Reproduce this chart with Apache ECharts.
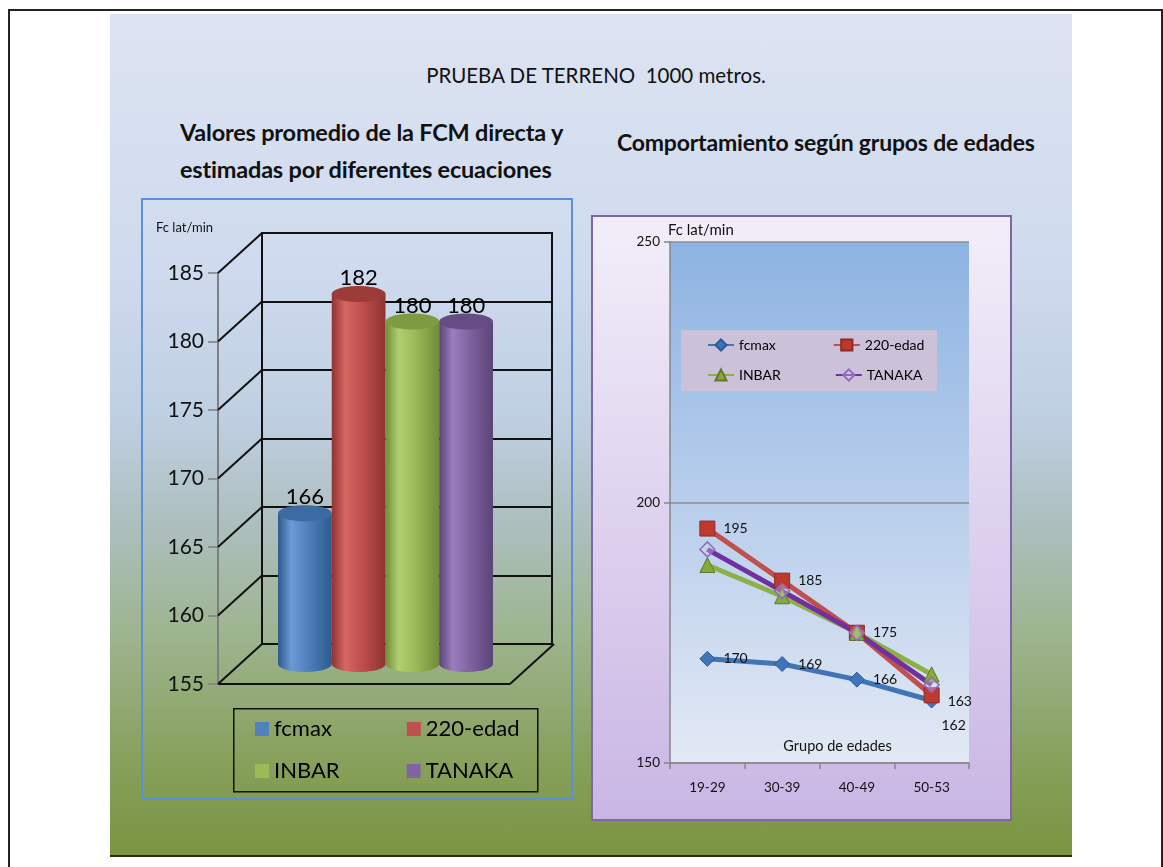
<!DOCTYPE html>
<html>
<head>
<meta charset="utf-8">
<script src="https://cdn.jsdelivr.net/npm/echarts@6/dist/echarts.min.js"></script>
<style>
	body{
		margin: 0;
		width: 1163px;
		height: 867px;
		overflow: hidden;
		background: #fff;
		position: relative;
		font-family: Lato, 'Open Sans', sans-serif;
	}
	.frame{
		position: absolute;
		left: 8px; top: 9px;
		width: 1151px; height: 900px;
		border: 2px solid #222;
	}
	.slide{
		position: absolute;
		left: 110px; top: 14px;
		width: 962px; height: 841px;
		border-bottom: 2px solid #223014;
		background: linear-gradient(to bottom, #dde4f2 0%, #cfdaee 30%, #bfcfe2 48%, #aebfc0 60%, #9db48e 74%, #88a15e 88%, #7a9440 100%);
	}
	.ttl{
		position: absolute;
		color: #111;
		white-space: pre;
		line-height: 37px;
	}
	#mainTitle{ left: 0; width: 1192px; top: 57px; text-align: center; font-size: 20.5px; }
	#leftTitle{ left: 180px; top: 114px; font-size: 23.5px; font-weight: bold; letter-spacing: -0.2px; }
	#rightTitle{ left: 617px; top: 124px; font-size: 23px; font-weight: bold; letter-spacing: -0.2px; }
	#barBox{
		position: absolute;
		left: 141px; top: 198px;
		width: 432px; height: 602px;
		border: 2px solid #5b8fd6;
		box-sizing: border-box;
	}
	#lineBox{
		position: absolute;
		left: 591px; top: 215px;
		width: 421px; height: 606px;
		border: 2px solid #7f67a6;
		box-sizing: border-box;
		background: linear-gradient(to bottom, #f2eef9, #c9b6e4);
	}
	#barChart, #lineChart{ width: 100%; height: 100%; }
</style>
</head>
<body>
	<div class="frame"></div>
	<div class="slide"></div>
	<div class="ttl" id="mainTitle">PRUEBA DE TERRENO  1000 metros.</div>
	<div class="ttl" id="leftTitle">Valores promedio de la FCM directa y
estimadas por diferentes ecuaciones</div>
	<div class="ttl" id="rightTitle">Comportamiento según grupos de edades</div>
	<div id="barBox"><div id="barChart"></div></div>
	<div id="lineBox"><div id="lineChart"></div></div>

<script>
	// ****** datos
	var seriesNames = ['fcmax', '220-edad', 'INBAR', 'TANAKA'];
	var barValues = [166, 182, 180, 180];
	var barTicks = [155, 160, 165, 170, 175, 180, 185];

	var ageGroups = ['19-29', '30-39', '40-49', '50-53'];
	var fcmax = [170, 169, 166, 162];
	var edad220 = [195, 185, 175, 163];
	var inbar = [188, 182, 175, 167];
	var tanaka = [191, 183, 175, 165];

	var FONT = 'Lato, "Open Sans", sans-serif';

	// colores: base, borde oscuro, claro, tapa
	var barColors = [
		['#4f81bd', '#2f5a8e', '#6a9ad6', '#3c6aa2'],
		['#c0504d', '#8f3330', '#d66662', '#9c3b38'],
		['#9bbb59', '#708c38', '#b0d06e', '#7e9b43'],
		['#8064a2', '#5a4478', '#9a7dbd', '#654c85']
	];

	function cylGrad(c){
		return new echarts.graphic.LinearGradient(0, 0, 1, 0, [
			{offset: 0, color: c[1]},
			{offset: 0.25, color: c[2]},
			{offset: 0.55, color: c[0]},
			{offset: 1, color: c[1]}
		]);
	}

	//  **************************** cilindros
	var barChart = echarts.init(document.getElementById('barChart'));

	var barSeries = [];
	for (var i = 0; i < seriesNames.length; i++) {
		barSeries.push({
			name: seriesNames[i],
			type: 'bar',
			xAxisIndex: 2, yAxisIndex: 2,
			barGap: '0%', barCategoryGap: '0%',
			z: 3,
			itemStyle: { color: cylGrad(barColors[i]) },
			label: {
				show: true, position: 'top', distance: 5,
				fontSize: 22, color: '#000', fontFamily: FONT
			},
			data: [barValues[i]]
		});
	}

	// tapa y base redondeadas de cada cilindro
	barSeries.push({
		type: 'custom',
		xAxisIndex: 2, yAxisIndex: 2,
		z: 4,
		silent: true,
		data: barValues.map(function (v, k) { return [0, k, v]; }),
		renderItem: function (params, api) {
			var k = api.value(1);
			var base = api.coord([0, 155]);
			var top = api.coord([0, api.value(2)]);
			var band = api.size([1, 0])[0];
			var w = band / seriesNames.length;
			var cx = base[0] - band / 2 + (k + 0.5) * w;
			return {
				type: 'group',
				children: [{
					type: 'ellipse',
					shape: { cx: cx, cy: base[1], rx: w / 2, ry: 8 },
					style: { fill: cylGrad(barColors[k]) }
				}, {
					type: 'ellipse',
					shape: { cx: cx, cy: top[1], rx: w / 2, ry: 8 },
					style: { fill: barColors[k][3] }
				}]
			};
		}
	});

	// lineas de perspectiva desde el eje frontal
	barSeries.push({
		type: 'custom',
		xAxisIndex: 0, yAxisIndex: 0,
		z: 1,
		silent: true,
		data: barTicks.map(function (v) { return [0, v]; }),
		renderItem: function (params, api) {
			var p = api.coord([0, api.value(1)]);
			var children = [{
				type: 'line',
				shape: { x1: p[0], y1: p[1], x2: p[0] + 44, y2: p[1] - 40 },
				style: { stroke: '#111', lineWidth: 2 }
			}];
			if (api.value(1) === barTicks[0]) {
				var q = api.coord([1, api.value(1)]);
				children.push({
					type: 'line',
					shape: { x1: p[0], y1: p[1], x2: q[0], y2: q[1] },
					style: { stroke: '#111', lineWidth: 2 }
				});
				children.push({
					type: 'line',
					shape: { x1: q[0], y1: q[1], x2: q[0] + 44, y2: q[1] - 40 },
					style: { stroke: '#111', lineWidth: 2 }
				});
			}
			return { type: 'group', children: children };
		}
	});

	var legendTop = [], legendBottom = [];
	for (var i = 0; i < seriesNames.length; i++) {
		var it = { name: seriesNames[i], icon: 'rect', itemStyle: { color: barColors[i][0] } };
		if (i < 2) legendTop.push(it); else legendBottom.push(it);
	}
	var barLegendBase = {
		left: 90,
		padding: [10, 12, 10, 22],
		itemWidth: 14, itemHeight: 14,
		selectedMode: false,
		textStyle: { fontSize: 22, color: '#000', fontFamily: FONT }
	};

	var option1 = {
		animation: false,
		textStyle: { fontFamily: FONT },
		title: {
			text: 'Fc lat/min',
			left: 8, top: 16,
			textStyle: { fontSize: 13, fontWeight: 'normal', color: '#111', fontFamily: FONT }
		},
		legend: [
			Object.assign({}, barLegendBase, { top: 508, itemGap: 75, data: legendTop }),
			Object.assign({}, barLegendBase, { top: 550, itemGap: 67, data: legendBottom })
		],
		grid: [
			// eje frontal
			{ left: 75, width: 292, top: 73, bottom: 114 },
			// pared del fondo
			{ left: 119, width: 290, top: 33, bottom: 154, show: true, borderColor: '#111', borderWidth: 2, backgroundColor: 'transparent' },
			// cilindros
			{ left: 135, width: 215, top: 53, bottom: 134 }
		],
		xAxis: [
			{ gridIndex: 0, type: 'value', min: 0, max: 1, show: false },
			{ gridIndex: 1, type: 'value', min: 0, max: 1, show: false },
			{ gridIndex: 2, type: 'category', data: [''], show: false }
		],
		yAxis: [
			{
				gridIndex: 0, type: 'value', min: 155, max: 185, interval: 5,
				axisLine: { show: true, lineStyle: { color: '#7f7f7f', width: 2 } },
				axisTick: { show: true, length: 10, lineStyle: { color: '#7f7f7f', width: 1.5 } },
				axisLabel: { fontSize: 21, color: '#111', margin: 14, fontFamily: FONT },
				splitLine: { show: false }
			},
			{
				gridIndex: 1, type: 'value', min: 155, max: 185, interval: 5,
				axisLine: { show: false }, axisTick: { show: false }, axisLabel: { show: false },
				splitLine: { show: true, lineStyle: { color: '#111', width: 2 } }
			},
			{ gridIndex: 2, type: 'value', min: 155, max: 185, show: false }
		],
		graphic: [{
			type: 'rect',
			left: 90, top: 508,
			shape: { width: 304, height: 83 },
			style: { fill: 'transparent', stroke: '#111', lineWidth: 1.5 },
			silent: true
		}],
		series: barSeries
	};
	option1 && barChart.setOption(option1);

	//  **************************** lineas por grupos de edades
	var lineChart = echarts.init(document.getElementById('lineChart'));

	function withLabel(arr, lastLabel) {
		return arr.map(function (v, idx) {
			if (idx === arr.length - 1 && lastLabel) {
				return { value: v, label: lastLabel };
			}
			return v;
		});
	}

	var lineLegendBase = {
		left: 88,
		padding: [8, 1, 8, 26],
		itemWidth: 26, itemHeight: 14,
		selectedMode: false,
		textStyle: { fontSize: 14, color: '#000', fontFamily: FONT }
	};

	var option2 = {
		animation: false,
		textStyle: { fontFamily: FONT },
		legend: [
			Object.assign({}, lineLegendBase, { top: 113, itemGap: 57, data: ['fcmax', '220-edad'] }),
			Object.assign({}, lineLegendBase, { top: 143, itemGap: 54, data: ['INBAR', 'TANAKA'] })
		],
		graphic: [{
			type: 'rect',
			left: 88, top: 113,
			shape: { width: 256, height: 61 },
			style: { fill: '#cbc2da' },
			silent: true,
			z: 0
		}],
		grid: {
			left: 77, right: 41, top: 25, bottom: 56,
			show: true, borderWidth: 0,
			backgroundColor: new echarts.graphic.LinearGradient(0, 0, 0, 1, [
				{ offset: 0, color: '#8db3e2' },
				{ offset: 1, color: '#e3e9f5' }
			])
		},
		xAxis: {
			type: 'category',
			data: ageGroups,
			boundaryGap: true,
			axisLine: { lineStyle: { color: '#868686', width: 1.5 } },
			axisTick: { show: true, length: 6, lineStyle: { color: '#868686', width: 1.5 } },
			axisLabel: { fontSize: 13.5, color: '#111', margin: 18, fontFamily: FONT },
			name: 'Grupo de edades',
			nameLocation: 'middle',
			nameGap: -24,
			nameTextStyle: { fontSize: 14.5, color: '#111', fontFamily: FONT, padding: [0, 0, 0, 36] }
		},
		yAxis: {
			type: 'value',
			min: 150, max: 250, interval: 50,
			axisLine: { show: true, lineStyle: { color: '#868686', width: 1.5 } },
			axisTick: { show: true, length: 6, lineStyle: { color: '#868686', width: 1.5 } },
			axisLabel: { fontSize: 13.5, color: '#111', margin: 10, fontFamily: FONT },
			splitLine: { show: true, lineStyle: { color: '#8c8c8c', width: 1.5 } },
			name: 'Fc lat/min',
			nameLocation: 'end',
			nameGap: 4,
			nameTextStyle: { fontSize: 15, color: '#111', fontFamily: FONT, align: 'left', padding: [0, 0, 0, -2] }
		},
		series: [
			{
				name: 'fcmax', type: 'line',
				symbol: 'diamond', symbolSize: 15,
				lineStyle: { color: '#4275b5', width: 5 },
				itemStyle: { color: '#3f74b8', borderColor: '#2b5a94', borderWidth: 1 },
				label: { show: true, position: 'right', distance: 8, fontSize: 14, color: '#111', fontFamily: FONT },
				data: withLabel(fcmax, { position: 'bottom', offset: [22, 2] })
			},
			{
				name: '220-edad', type: 'line',
				symbol: 'rect', symbolSize: 15,
				lineStyle: { color: '#c0504d', width: 5 },
				itemStyle: { color: '#c0392f', borderColor: '#8c2b27', borderWidth: 1 },
				label: { show: true, position: 'right', distance: 8, fontSize: 14, color: '#111', fontFamily: FONT },
				data: withLabel(edad220, { position: 'right', offset: [0, 6] })
			},
			{
				name: 'INBAR', type: 'line',
				symbol: 'triangle', symbolSize: 15,
				lineStyle: { color: '#8cb045', width: 5 },
				itemStyle: { color: '#86a83d', borderColor: '#5e7a2a', borderWidth: 1 },
				data: inbar
			},
			{
				name: 'TANAKA', type: 'line',
				symbol: 'diamond', symbolSize: 15,
				lineStyle: { color: '#7030a0', width: 5 },
				itemStyle: { color: 'rgba(220,210,240,0.35)', borderColor: '#8e6cbd', borderWidth: 1.5 },
				data: tanaka
			}
		]
	};
	option2 && lineChart.setOption(option2);
</script>
</body>
</html>
